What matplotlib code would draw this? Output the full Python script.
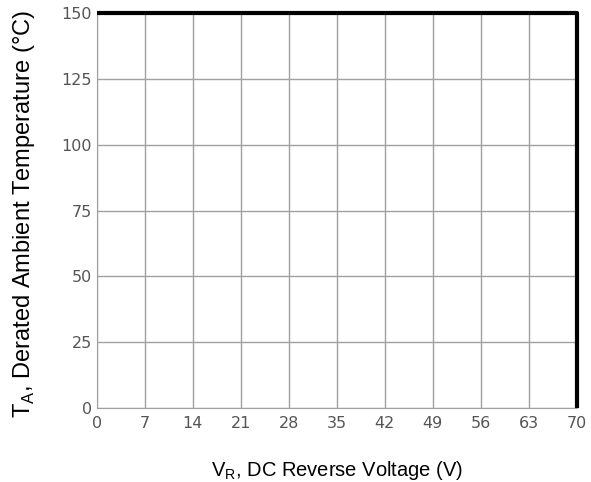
import matplotlib
matplotlib.use("Agg")
import matplotlib.pyplot as plt

plt.rcParams['font.family'] = ['Liberation Sans', 'DejaVu Sans']
plt.rcParams['mathtext.fontset'] = 'custom'
plt.rcParams['mathtext.rm'] = 'Liberation Sans'

# derating curve: full temperature up to max voltage, then drops
voltage = [0, 70, 70]
temperature = [150, 150, 0]
x_ticks = [0, 7, 14, 21, 28, 35, 42, 49, 56, 63, 70]
y_ticks = [0, 25, 50, 75, 100, 125, 150]

fig = plt.figure(figsize=(5.91, 4.82), dpi=100)
ax = fig.add_axes([0.164, 0.1535, 0.812, 0.8195])

ax.plot(voltage, temperature, color='black', linewidth=3, solid_capstyle='butt', zorder=3, clip_on=False)

ax.set_xlim(0, 70)
ax.set_ylim(0, 150)
ax.set_xticks(x_ticks)
ax.set_yticks(y_ticks)
ax.grid(True, color='#a0a0a0', linewidth=1)
ax.tick_params(length=0, labelsize=11.5, labelcolor='#555555')
ax.tick_params(axis='x', pad=6)
ax.tick_params(axis='y', pad=3.5)
for lbl in ax.get_xticklabels() + ax.get_yticklabels():
    lbl.set_family('DejaVu Sans')
for s in ax.spines.values():
    s.set_visible(False)
ax.spines['left'].set_visible(True)
ax.spines['bottom'].set_visible(True)
ax.spines['left'].set_color('#a0a0a0')
ax.spines['bottom'].set_color('#a0a0a0')

ax.set_xlabel(r'V$_\mathregular{R}$, DC Reverse Voltage (V)', fontsize=14.5)
ax.set_ylabel(r'T$_\mathregular{A}$, Derated Ambient Temperature (°C)', fontsize=17)
ax.xaxis.set_label_coords(0.5, -0.13)
ax.yaxis.set_label_coords(-0.125, 0.49)

fig.savefig('out.png', dpi=100, facecolor='white')
